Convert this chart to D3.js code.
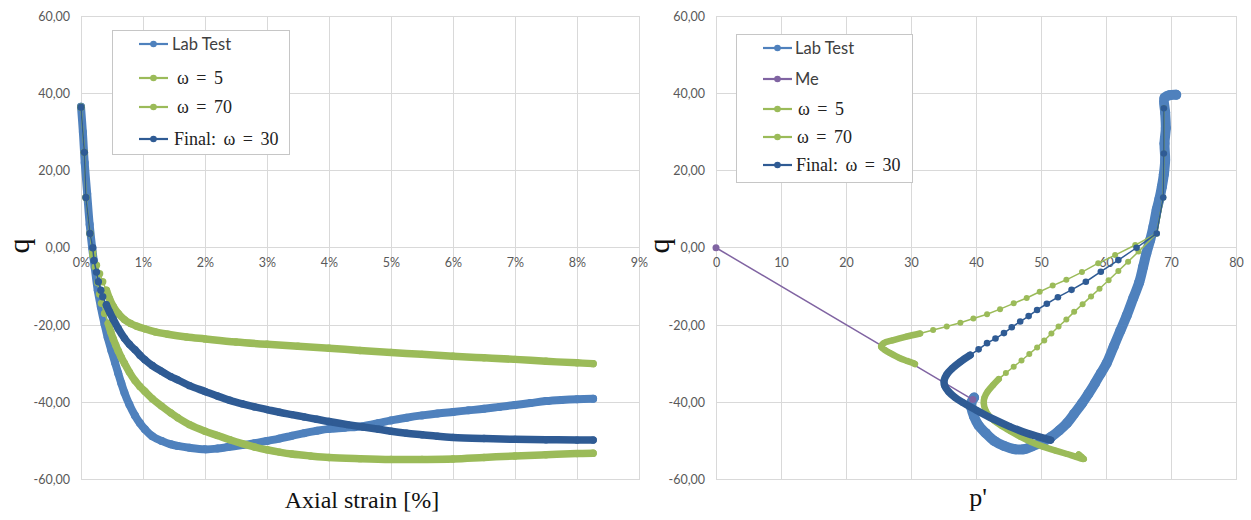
<!DOCTYPE html>
<html><head><meta charset="utf-8">
<script src="https://cdn.jsdelivr.net/npm/d3@7"></script>
<style>body{margin:0;background:#fff}svg{display:block}</style>
</head><body>
<svg id="chart" width="1251" height="520"></svg>
<script>
// ---------- DATA ----------
const qTicks = [-60, -40, -20, 0, 20, 40, 60];
const strainTicks = [0, 1, 2, 3, 4, 5, 6, 7, 8, 9];
const pTicks = [0, 10, 20, 30, 40, 50, 60, 70, 80];

const leftLegend = ["Lab Test", "ω = 5", "ω = 70", "Final: ω = 30"];
const rightLegend = ["Lab Test", "Me", "ω = 5", "ω = 70", "Final: ω = 30"];

// Left chart: [axial strain %, q]
const labTestStrain = [[0,36.5],[0.03,30],[0.06,22],[0.1,14],[0.14,6],[0.18,0],[0.22,-5],[0.27,-11],[0.32,-15.3],[0.38,-19.8],[0.43,-23.2],[0.49,-26.6],[0.55,-29.8],[0.6,-32.5],[0.65,-35.1],[0.7,-37.5],[0.78,-40.6],[0.87,-43.4],[0.95,-45.4],[1.03,-47],[1.15,-48.8],[1.3,-50],[1.45,-50.9],[1.56,-51.3],[1.75,-51.8],[2.0,-52.2],[2.2,-52],[2.37,-51.6],[2.6,-51.1],[2.8,-50.6],[3.0,-50],[3.2,-49.4],[3.4,-48.7],[3.6,-48],[3.8,-47.4],[4.0,-46.9],[4.25,-46.6],[4.55,-46.2],[4.8,-45.4],[5.0,-44.7],[5.25,-44],[5.5,-43.4],[5.75,-42.9],[6.0,-42.5],[6.25,-42.1],[6.5,-41.7],[6.75,-41.2],[7.0,-40.7],[7.25,-40.2],[7.5,-39.7],[7.75,-39.4],[8.0,-39.2],[8.26,-39.1]];
const omega5Strain = [[0,36.4],[0.054,24.7],[0.08,13],[0.145,3.7],[0.19,-2],[0.25,-4.5],[0.3,-6.7],[0.35,-8.8],[0.41,-11],[0.46,-13.2],[0.52,-15.2],[0.6,-17],[0.7,-18.6],[0.8,-19.6],[0.9,-20.3],[1.03,-21],[1.2,-21.8],[1.4,-22.4],[1.7,-23.1],[2.0,-23.6],[2.5,-24.4],[3.0,-25],[3.5,-25.5],[4.0,-26],[4.5,-26.6],[5.0,-27.1],[5.5,-27.6],[6.0,-28.1],[6.5,-28.5],[7.0,-28.9],[7.5,-29.4],[8.0,-29.8],[8.26,-30]];
const omega70Strain = [[0,36.4],[0.054,24.7],[0.08,13],[0.145,3.7],[0.19,-1],[0.23,-5],[0.27,-9],[0.3,-12],[0.33,-14.4],[0.38,-17],[0.44,-19.6],[0.48,-21.8],[0.52,-23.6],[0.56,-25.2],[0.6,-26.7],[0.65,-28.4],[0.7,-29.9],[0.78,-32.2],[0.87,-34.4],[0.95,-35.9],[1.03,-37.2],[1.15,-39.1],[1.3,-41],[1.45,-42.8],[1.56,-44],[1.75,-45.8],[2.0,-47.5],[2.2,-48.6],[2.4,-49.7],[2.6,-50.7],[2.8,-51.6],[3.0,-52.3],[3.2,-52.9],[3.4,-53.4],[3.7,-53.9],[4.0,-54.3],[4.5,-54.6],[5.0,-54.8],[5.5,-54.8],[6.0,-54.7],[6.5,-54.3],[7.0,-53.9],[7.5,-53.6],[8.0,-53.3],[8.26,-53.2]];
const finalStrain = [[0,36.4],[0.054,24.7],[0.08,13],[0.145,3.7],[0.19,0],[0.21,-3.3],[0.25,-6.3],[0.28,-8.8],[0.32,-11],[0.35,-12.7],[0.41,-14.8],[0.46,-16.6],[0.52,-18.5],[0.6,-20.9],[0.7,-23.4],[0.78,-25],[0.87,-26.4],[0.95,-27.8],[1.03,-29],[1.15,-30.5],[1.3,-32],[1.45,-33.4],[1.56,-34.2],[1.75,-35.7],[2.0,-37.2],[2.2,-38.4],[2.4,-39.5],[2.6,-40.4],[2.8,-41.2],[3.0,-41.9],[3.2,-42.6],[3.4,-43.2],[3.6,-43.8],[3.8,-44.4],[4.0,-45],[4.3,-45.8],[4.55,-46.4],[4.8,-47],[5.0,-47.5],[5.25,-48],[5.5,-48.4],[5.75,-48.8],[6.0,-49.1],[6.5,-49.4],[7.0,-49.6],[7.5,-49.7],[8.0,-49.8],[8.26,-49.8]];

// Right chart: [p', q]
const labTestP = [[70.8,39.6],[69.8,39.5],[69.0,38.8],[69.1,35],[69.2,31],[69.0,27],[69.1,22.7],[68.9,19],[68.6,15.8],[68.2,12.5],[67.8,9.8],[67.3,5.5],[66.8,2],[66.2,-1.5],[65.7,-5],[65.1,-9],[64.2,-13],[63.2,-17.5],[62.2,-21.5],[61.2,-25.5],[60.1,-29.9],[59.2,-32.5],[58.3,-35.1],[57.3,-37.8],[56.3,-40.3],[55.1,-43],[54,-45.4],[52.8,-47.3],[51.6,-48.9],[50.2,-50.3],[48.5,-51.5],[47.3,-52.2],[45.8,-52.1],[44.3,-51.3],[42.8,-50],[41.5,-48],[40.4,-46],[39.7,-43.7],[39.3,-41.5],[39.3,-40],[39.7,-38.8]];
const meP = [[0,0],[39.5,-39.3]];
const omega5P = [[68.9,36.1],[68.9,24.4],[68.8,13],[67.8,3.7],[64.5,0.7],[61.4,-1.9],[58.8,-4],[56.3,-6.3],[53.9,-8.3],[51.8,-9.8],[49.8,-11.4],[47.8,-13],[45.8,-14.4],[43.7,-15.9],[41.7,-17.2],[39.6,-18.3],[37.6,-19.4],[35.5,-20.4],[33.4,-21.3],[31.4,-22.2],[29.3,-23],[27.3,-23.9],[25.8,-24.7],[25.4,-25.6],[26,-26.5],[26.8,-27.3],[28.3,-28.6],[29.4,-29.3],[30.4,-29.9],[30.6,-30.1]];
const omega70P = [[68.9,36.1],[68.9,24.4],[68.8,13],[67.8,3.7],[65,-1],[63.4,-3.6],[61.9,-6],[60.4,-8.4],[59,-10.6],[57.7,-12.6],[56.4,-14.6],[55.1,-16.6],[53.9,-18.6],[52.7,-20.4],[51.6,-22.2],[50.5,-24],[49.4,-25.8],[48.2,-27.5],[47,-29.2],[45.8,-30.8],[44.6,-32.4],[43.5,-34],[42.6,-35.6],[41.8,-37.2],[41.3,-38.8],[41.2,-40.3],[41.4,-41.8],[41.9,-43.3],[42.8,-44.8],[43.9,-46.1],[45.3,-47.5],[46.8,-48.9],[48.5,-50.3],[50.3,-51.5],[52.2,-52.5],[54,-53.4],[55.5,-54.2],[56.6,-54.7],[56.2,-54.1],[55.8,-53.5]];
const finalP = [[68.9,36.1],[68.9,24.4],[68.8,13],[67.8,3.7],[64.7,0],[61.9,-3.2],[59.2,-6.2],[56.9,-8.8],[54.7,-10.9],[52.6,-12.8],[50.9,-14.5],[49.4,-16.1],[48.1,-17.7],[46.8,-19.1],[45.5,-20.6],[44.3,-22.1],[43,-23.5],[41.7,-24.7],[40.4,-26.3],[39.1,-27.8],[37.6,-29.5],[36.3,-31.3],[35.5,-32.8],[35.1,-34.3],[35.2,-35.8],[35.8,-37.3],[36.8,-38.8],[38,-40.1],[40.2,-42.2],[42.7,-44.4],[45.2,-46.3],[47.8,-48],[50.4,-49.3],[51.5,-49.8]];

// ---------- STYLE ----------
const C = {lab:"#4f81bd", me:"#8064a2", green:"#9bbb59", fin:"#2f5b94", grid:"#d9d9d9", tick:"#595959"};
const svg = d3.select("#chart");
const loc = d3.formatLocale({decimal:",", thousands:".", grouping:[3], currency:["",""], minus:"-"});
const qFmt = loc.format(".2f");

const yS = d3.scaleLinear().domain([-60, 60]).range([479.5, 16]);
const xL = d3.scaleLinear().domain([0, 9]).range([81, 639]);
const xR = d3.scaleLinear().domain([0, 80]).range([716, 1236]);

function frame(xs, xTicks, xFmt) {
  const g = svg.append("g");
  g.selectAll(".vg").data(xTicks).join("line")
    .attr("x1", d => xs(d)).attr("x2", d => xs(d))
    .attr("y1", yS(60)).attr("y2", yS(-60))
    .attr("stroke", C.grid).attr("stroke-width", 1).attr("shape-rendering", "crispEdges");
  g.selectAll(".hg").data(qTicks).join("line")
    .attr("x1", xs.range()[0]).attr("x2", xs.range()[1])
    .attr("y1", d => yS(d)).attr("y2", d => yS(d))
    .attr("stroke", C.grid).attr("stroke-width", 1).attr("shape-rendering", "crispEdges");
  const ya = svg.append("g").attr("transform", `translate(${xs(0)},0)`)
    .call(d3.axisLeft(yS).tickValues(qTicks).tickSize(0).tickPadding(11).tickFormat(qFmt));
  const xa = svg.append("g").attr("transform", `translate(0,${yS(0)})`)
    .call(d3.axisBottom(xs).tickValues(xTicks).tickSize(0).tickPadding(10).tickFormat(xFmt));
  [ya, xa].forEach(a => {
    a.select(".domain").remove();
    a.selectAll("text").attr("fill", C.tick).style("font-family", "Lato, 'Open Sans', sans-serif").style("font-size", "12.5px");
  });
}

function series(xs, data, color, opt) {
  const g = svg.append("g");
  const line = d3.line().x(d => xs(d[0])).y(d => yS(d[1]));
  g.append("path").attr("d", line(data)).attr("fill", "none")
    .attr("stroke", color).attr("stroke-width", opt.lw || 1.5);
  if (opt.dense != null) {
    const band = d3.line().x(d => xs(d[0])).y(d => yS(d[1])).curve(d3.curveCatmullRom.alpha(0.5));
    g.append("path").attr("d", band(data.slice(opt.dense))).attr("fill", "none")
      .attr("stroke", color).attr("stroke-width", opt.bw)
      .attr("stroke-linecap", "round").attr("stroke-linejoin", "round");
  }
  g.selectAll("circle").data(data).join("circle")
    .attr("cx", d => xs(d[0])).attr("cy", d => yS(d[1])).attr("r", opt.r).attr("fill", color);
}

function legend(x0, y0, w, h, items, colors, ys, textX) {
  const g = svg.append("g");
  g.append("rect").attr("x", x0 + 0.5).attr("y", y0 + 0.5).attr("width", w).attr("height", h)
    .attr("fill", "#fff").attr("stroke", "#c6c6c6");
  items.forEach((t, i) => {
    const y = ys[i];
    g.append("line").attr("x1", x0 + 27).attr("x2", x0 + 56).attr("y1", y).attr("y2", y)
      .attr("stroke", colors[i]).attr("stroke-width", 2.2);
    g.append("circle").attr("cx", x0 + 41.5).attr("cy", y).attr("r", 3.3).attr("fill", colors[i]);
    const serif = t.includes("ω");
    g.append("text").attr("x", textX[i]).attr("y", y).attr("dy", "0.35em")
      .attr("fill", serif ? "#222" : "#404040")
      .style("font-family", serif ? "'Liberation Serif', 'DejaVu Serif', serif" : "Lato, 'Open Sans', sans-serif")
      .style("font-size", serif ? "18px" : "16.5px")
      .style("word-spacing", serif ? "3px" : "0px")
      .text(t);
  });
}

// ---------- LEFT CHART ----------
frame(xL, strainTicks, d => d + "%");
series(xL, labTestStrain, C.lab, {r: 4, dense: 0, bw: 8});
series(xL, omega5Strain, C.green, {r: 3.7, dense: 8, bw: 7.5});
series(xL, omega70Strain, C.green, {r: 3.7, dense: 10, bw: 7.5});
series(xL, finalStrain, C.fin, {r: 3.7, dense: 10, bw: 7.5});
legend(112, 30, 177, 124, leftLegend, [C.lab, C.green, C.green, C.fin], [44, 78, 107, 139], [172, 177, 177, 174]);

// ---------- RIGHT CHART ----------
frame(xR, pTicks, d => d);
series(xR, labTestP, C.lab, {r: 5, dense: 0, bw: 10});
series(xR, meP, C.me, {r: 3.5, lw: 1.5});
series(xR, omega5P, C.green, {r: 3, dense: 19, bw: 6.5});
series(xR, omega70P, C.green, {r: 3, dense: 21, bw: 6.5});
series(xR, finalP, C.fin, {r: 3.3, dense: 19, bw: 7.5});
legend(736, 34, 176, 148, rightLegend, [C.lab, C.me, C.green, C.green, C.fin], [48, 79, 109, 137, 165], [795, 795, 798, 797, 796]);

// ---------- AXIS TITLES ----------
const serifFont = "'Liberation Serif', 'DejaVu Serif', serif";
[[20, 246], [660, 246]].forEach(([x, y]) => {
  svg.append("text").attr("transform", `translate(${x},${y}) rotate(-90)`)
    .attr("text-anchor", "middle").attr("dy", "0.3em")
    .style("font-family", serifFont).style("font-size", "30px").attr("fill", "#111").text("q");
});
svg.append("text").attr("x", 362).attr("y", 508).attr("text-anchor", "middle")
  .style("font-family", serifFont).style("font-size", "24px").attr("fill", "#111").text("Axial strain [%]");
svg.append("text").attr("x", 978).attr("y", 506).attr("text-anchor", "middle")
  .style("font-family", serifFont).style("font-size", "26px").attr("fill", "#111").text("p'");
</script>
</body></html>
